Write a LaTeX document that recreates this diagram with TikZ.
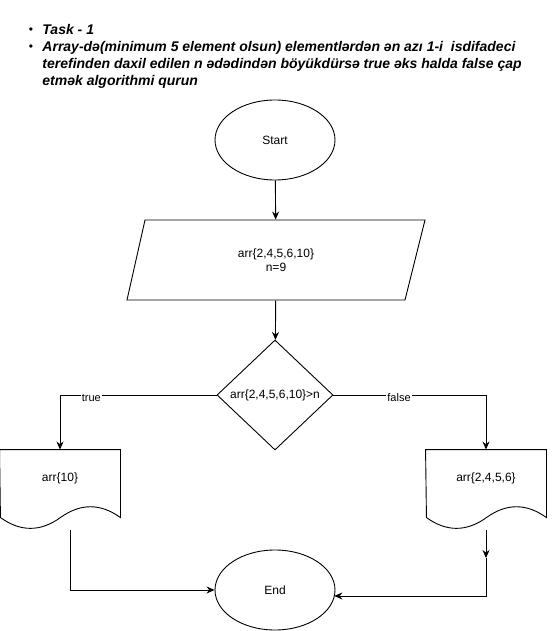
\documentclass[tikz,border=0pt]{standalone}
\usepackage{fontspec}
\setmainfont{Liberation Sans}
\usetikzlibrary{shapes.geometric,arrows.meta}
\begin{document}
\begin{tikzpicture}[x=1pt,y=-1pt,line width=0.9pt,
  lbl/.style={font=\fontsize{12}{14}\selectfont,inner sep=0pt},
  elbl/.style={font=\fontsize{11}{13}\selectfont,fill=white,inner sep=1pt},
  hdr/.style={font=\fontsize{14}{16}\selectfont\bfseries\itshape,anchor=base west,inner sep=0pt},
  bul/.style={font=\fontsize{12}{14}\selectfont,inner sep=0pt},
  term/.style={ellipse,draw,minimum width=120pt,minimum height=80pt,inner sep=0pt,font=\fontsize{12}{14}\selectfont},
  docbox/.style={rectangle,minimum width=120pt,minimum height=56pt,inner sep=0pt,font=\fontsize{12}{14}\selectfont},
  arr/.style={-{Stealth[length=8pt,width=7pt]}}]
\useasboundingbox (0,0) rectangle (551,631);
% header
\node[bul] (b1) at (31,31) {•};
\node[bul] (b2) at (31,48) {•};
\node[hdr] (h1) at (42,35) {Task - 1};
\node[hdr] (h2) at (42,52) {Array-də(minimum 5 element olsun) elementlərdən ən azı 1-i\ \ isdifadeci};
\node[hdr] (h3) at (42,69) {terefinden daxil edilen n ədədindən böyükdürsə true əks halda false çap};
\node[hdr] (h4) at (42,86) {etmək algorithmi qurun};
% shapes
\node[term] (start) at (275,140) {Start};
\node[rectangle,minimum width=260pt,minimum height=80pt,inner sep=0pt,align=center,font=\fontsize{12}{14}\selectfont] (io) at (276,260) {arr\{2,4,5,6,10\}\\n=9};
\draw (145,220) -- (425,220) -- (405,300) -- (127,300) -- cycle;
\node[diamond,draw,minimum width=116pt,minimum height=110pt,inner sep=0pt] (dec) at (275,395) {};
\node[lbl] (dectext) at (dec) {arr\{2,4,5,6,10\}>n};
\node[docbox] (d1) at (60,478) {arr\{10\}};
\node[docbox] (d2) at (486,478) {arr\{2,4,5,6\}};
\draw (d1.north west) -- (d1.north east) -- ++(0,68)
  .. controls +(-20,-14.4) and +(20,-14.4) .. ++(-60,0)
  .. controls +(-20,14.4) and +(20,14.4) .. ++(-60,0) -- cycle;
\draw (d2.north west) -- (d2.north east) -- ++(0,68)
  .. controls +(-20,-14.4) and +(20,-14.4) .. ++(-60,0)
  .. controls +(-20,14.4) and +(20,14.4) .. ++(-60,0) -- cycle;
\node[term] (end) at (275,590) {End};
% connectors
\draw[arr] (start) -- (io);
\draw[arr] (io) -- (dec);
\draw[arr] (dec.west) -| node[elbl,pos=0.4,yshift=-3pt] {true} (d1.north);
\draw[arr] (dec.east) -| node[elbl,pos=0.215,yshift=-3pt] {false} (d2.north);
\coordinate (d1b) at (70,530);
\draw[arr] (d1b) |- (end.west);
\coordinate (d2b) at (486,530);
\coordinate (mid) at (486,558);
\coordinate (endr) at (334.3,596);
\draw[arr] (d2b) -- (mid);
\draw[arr] (mid) |- (endr);
\end{tikzpicture}
\end{document}
